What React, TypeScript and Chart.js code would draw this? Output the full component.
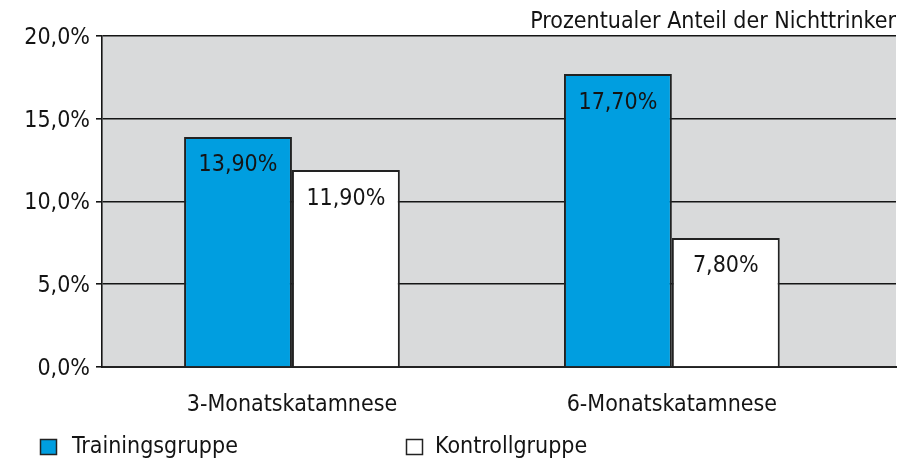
import React, { useEffect, useRef } from 'react';
import { Chart, registerables } from 'chart.js';

Chart.register(...registerables);

// ---- data ----
const categories = ['3-Monatskatamnese', '6-Monatskatamnese'];
const seriesLabels = ['Trainingsgruppe', 'Kontrollgruppe'];
const trainingValues = [13.9, 17.7];
const controlValues = [11.9, 7.8];
const yTickValues = [0, 5, 10, 15, 20];
const chartTitle = 'Prozentualer Anteil der Nichttrinker';

// ---- styles ----
const FONT = '"DejaVu Sans Condensed", "DejaVu Sans", sans-serif';
const FONT_SIZE = 23;
const TEXT = '#141414';
const BLUE = '#009EE0';
const WHITE = '#FFFFFF';
const PLOT_BG = '#D9DADB';
const LINE = '#151515';
const BAR_BORDER = '#222222';

const fmtAxis = (v: number) => v.toFixed(1).replace('.', ',') + '%';
const fmtValue = (v: number) => v.toFixed(2).replace('.', ',') + '%';

const plotBackground = {
  id: 'plotBackground',
  beforeDraw(chart: any) {
    const { ctx, chartArea } = chart;
    if (!chartArea) return;
    ctx.save();
    ctx.fillStyle = PLOT_BG;
    ctx.fillRect(chartArea.left, chartArea.top, chartArea.right - chartArea.left, chartArea.bottom - chartArea.top);
    ctx.restore();
  },
};

const valueLabels = {
  id: 'valueLabels',
  afterDatasetsDraw(chart: any) {
    const { ctx } = chart;
    ctx.save();
    ctx.font = `${FONT_SIZE}px ${FONT}`;
    ctx.fillStyle = TEXT;
    ctx.textAlign = 'center';
    ctx.textBaseline = 'alphabetic';
    chart.data.datasets.forEach((ds: any, di: number) => {
      const meta = chart.getDatasetMeta(di);
      meta.data.forEach((bar: any, i: number) => {
        const v = ds.data[i].y;
        ctx.fillText(fmtValue(v), bar.x, bar.y + 34.5);
      });
    });
    ctx.restore();
  },
};

const legendPositions = [
  { box: 40, text: 72 },
  { box: 406, text: 435 },
];

const customLegend = {
  id: 'customLegend',
  afterDraw(chart: any) {
    const { ctx } = chart;
    ctx.save();
    ctx.font = `${FONT_SIZE}px ${FONT}`;
    ctx.textBaseline = 'alphabetic';
    ctx.textAlign = 'left';
    chart.data.datasets.forEach((ds: any, di: number) => {
      const pos = legendPositions[di];
      ctx.fillStyle = ds.backgroundColor;
      ctx.fillRect(pos.box, 439, 16, 15);
      ctx.lineWidth = 1.5;
      ctx.strokeStyle = BAR_BORDER;
      ctx.strokeRect(pos.box + 0.5, 439.5, 16, 15);
      ctx.fillStyle = TEXT;
      ctx.fillText(ds.label, pos.text, 453);
    });
    ctx.restore();
  },
};

export default function App() {
  const canvasRef = useRef<HTMLCanvasElement | null>(null);

  useEffect(() => {
    if (!canvasRef.current) return;
    const chart = new Chart(canvasRef.current, {
      type: 'bar',
      data: {
        datasets: [
          {
            label: seriesLabels[0],
            data: categories.map((_, i) => ({ x: i, y: trainingValues[i] })),
            backgroundColor: BLUE,
            borderColor: BAR_BORDER,
            borderWidth: 2,
            categoryPercentage: 0.568,
            barPercentage: 1,
          },
          {
            label: seriesLabels[1],
            data: categories.map((_, i) => ({ x: i, y: controlValues[i] })),
            backgroundColor: WHITE,
            borderColor: BAR_BORDER,
            borderWidth: 2,
            categoryPercentage: 0.568,
            barPercentage: 1,
          },
        ],
      },
      options: {
        responsive: false,
        animation: false,
        devicePixelRatio: 1,
        layout: { padding: { left: 0, right: 24, top: 0, bottom: 0 } },
        plugins: {
          legend: { display: false },
          tooltip: { enabled: false },
          title: {
            display: true,
            text: chartTitle,
            align: 'end',
            color: TEXT,
            font: { family: FONT, size: FONT_SIZE, weight: 'normal' },
            padding: { top: 8, bottom: 0.4 },
          },
        },
        scales: {
          x: {
            type: 'linear',
            min: -0.5,
            max: 1.59,
            offset: false,
            grid: { display: false, drawTicks: false, offset: false },
            border: { display: true, color: '#222222', width: 2 },
            afterBuildTicks: (scale: any) => {
              scale.ticks = categories.map((_, i) => ({ value: i }));
            },
            afterFit: (scale: any) => {
              scale.height = 94;
            },
            ticks: {
              autoSkip: false,
              maxRotation: 0,
              padding: 24,
              color: TEXT,
              font: { family: FONT, size: FONT_SIZE },
              callback: (v: any) => categories[Math.round(Number(v))] ?? '',
            },
          },
          y: {
            min: 0,
            max: 20,
            afterBuildTicks: (scale: any) => {
              scale.ticks = yTickValues.map((v) => ({ value: v }));
            },
            afterFit: (scale: any) => {
              scale.width = 102;
            },
            grid: { color: LINE, lineWidth: 1.6, tickLength: 6, drawTicks: true },
            border: { display: true, color: LINE, width: 1.6 },
            ticks: {
              padding: 6,
              labelOffset: 2,
              color: TEXT,
              font: { family: FONT, size: FONT_SIZE },
              callback: (v: any) => fmtAxis(Number(v)),
            },
          },
        },
      },
      plugins: [plotBackground, valueLabels, customLegend],
    } as any);
    return () => chart.destroy();
  }, []);

  return (
    <div style={{ position: 'fixed', left: 0, top: 0, width: 920, height: 461, background: '#ffffff' }}>
      <canvas ref={canvasRef} width={920} height={461} style={{ display: 'block', width: 920, height: 461 }} />
    </div>
  );
}
